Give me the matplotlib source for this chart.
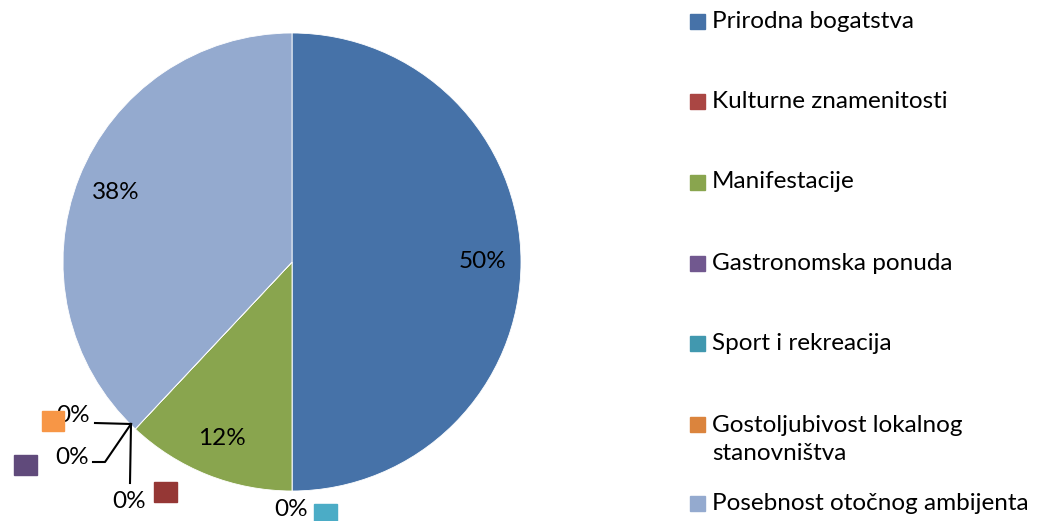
import matplotlib.pyplot as plt
from matplotlib.patches import Rectangle

plt.rcParams['font.family'] = ['Lato', 'DejaVu Sans']

categories = ['Prirodna bogatstva', 'Kulturne znamenitosti', 'Manifestacije',
              'Gastronomska ponuda', 'Sport i rekreacija',
              'Gostoljubivost lokalnog\nstanovništva', 'Posebnost otočnog ambijenta']
values = [50, 0, 12, 0, 0, 0, 38]
colors = ['#4672A8', '#AA4643', '#89A54E', '#71588F', '#4198AF', '#DB843D', '#94AACF']
# colours of the small keys beside the 0% labels
key_colors = {1: '#953735', 3: '#604A7B', 4: '#4BACC6', 5: '#F79646'}

W, H = 1042, 521
fs = 17.5

fig = plt.figure(figsize=(W / 100, H / 100), dpi=100)
ax = fig.add_axes([0, 0, 1, 1])

cx, cy, r = 292, H - 262, 229
wedges, texts, autotexts = ax.pie(
    values, colors=colors, startangle=90, counterclock=False,
    center=(cx, cy), radius=r, pctdistance=0.83,
    autopct=lambda p: '%d%%' % round(p) if p > 0.5 else '',
    wedgeprops=dict(linewidth=0.6, edgecolor='white'),
    textprops=dict(fontsize=fs, color='black'))

ax.set_xlim(0, W)
ax.set_ylim(0, H)
ax.set_aspect('equal')
ax.axis('off')

# point where the zero slices sit
px, py = 131, H - 424

# orange (Gostoljubivost)
ax.text(90, H - 415, '0%', ha='right', va='center', fontsize=fs)
ax.add_patch(Rectangle((42, H - 431), 22, 20, color=key_colors[5], zorder=3))
ax.plot([95, px], [H - 423, py], color='black', lw=1.5)
# purple (Gastronomska)
ax.text(89, H - 458, '0%', ha='right', va='center', fontsize=fs)
ax.add_patch(Rectangle((14, H - 475), 23, 20, color=key_colors[3], zorder=3))
ax.plot([93, 105, px], [H - 462, H - 462, py], color='black', lw=1.5)
# red (Kulturne)
ax.text(146, H - 502, '0%', ha='right', va='center', fontsize=fs)
ax.add_patch(Rectangle((154, H - 502), 23, 20, color=key_colors[1], zorder=3))
ax.plot([130, px], [H - 483, py], color='black', lw=1.5)
# teal (Sport)
ax.text(308, H - 510, '0%', ha='right', va='center', fontsize=fs)
ax.add_patch(Rectangle((314, H - 521), 23, 17, color=key_colors[4], zorder=3))

# legend
legend_y = [21, 101, 182, 263, 343, 424, 503]
for name, col, y in zip(categories, colors, legend_y):
    ax.add_patch(Rectangle((690, H - y - 7.5), 15, 15, color=col))
    if '\n' in name:
        ax.text(712, H - y - 15.5, name, ha='left', va='center', fontsize=fs,
                linespacing=1.45)
    else:
        ax.text(712, H - y, name, ha='left', va='center', fontsize=fs)

fig.savefig('out.png', dpi=100)
